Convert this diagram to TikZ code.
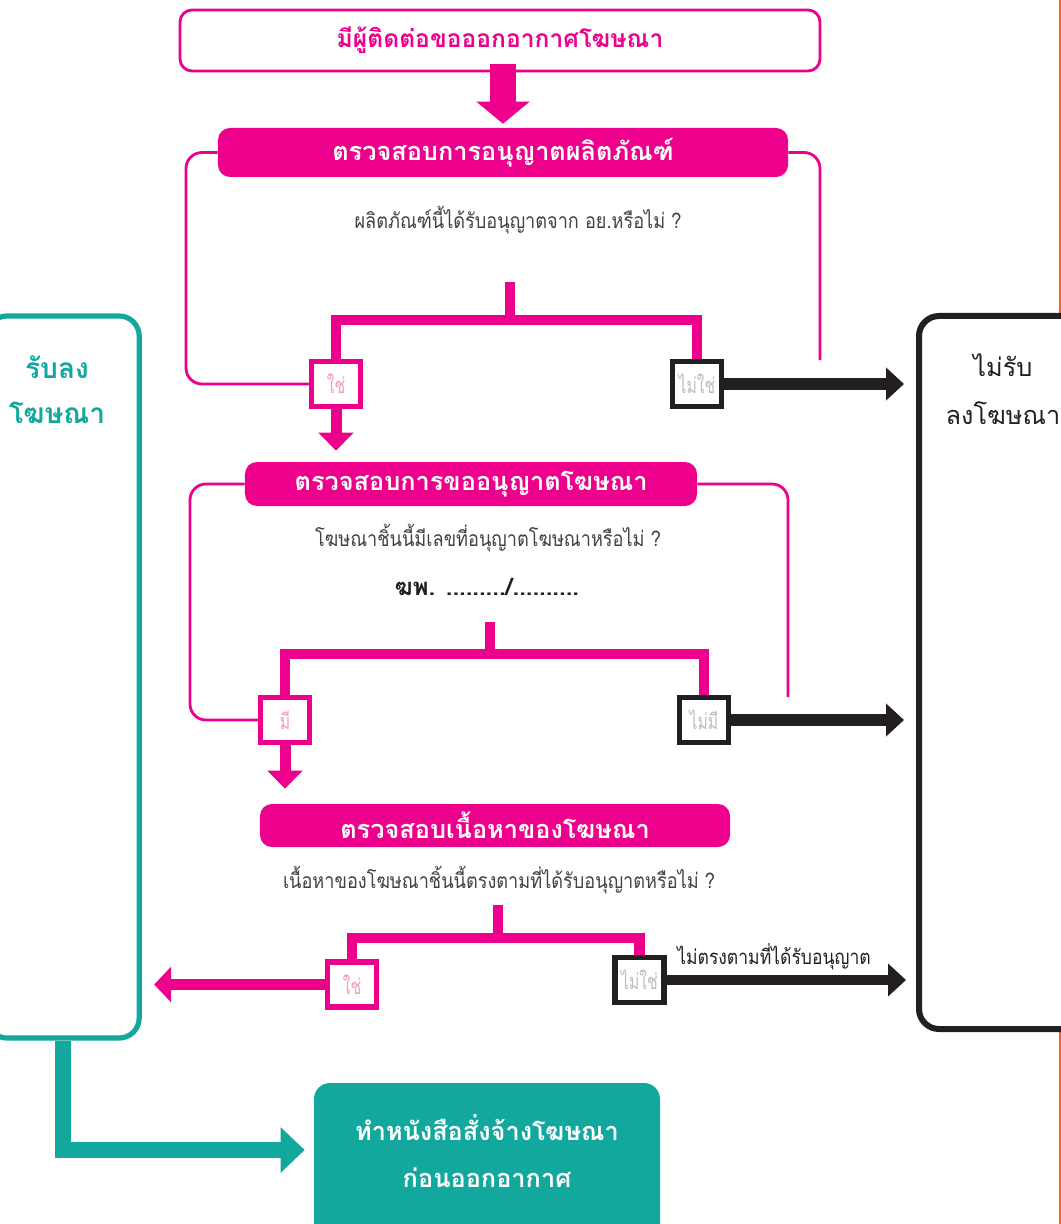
\documentclass[tikz,border=0pt]{standalone}
\usepackage{fontspec}
\newfontfamily\thai[Script=Thai]{Loma}
\newfontfamily\thaicond[Script=Thai,FakeStretch=0.86]{Loma}
\newfontfamily\thainarrow[Script=Thai,FakeStretch=0.72]{Loma}
\usetikzlibrary{arrows.meta}

\definecolor{adpink}{HTML}{EC008C}
\definecolor{adteal}{HTML}{13A89E}
\definecolor{addark}{HTML}{231F20}
\definecolor{softpink}{HTML}{F49AC1}
\definecolor{softgray}{HTML}{BCBEC0}
\definecolor{edgeorange}{HTML}{F26522}

\tikzset{
    headbox/.style={fill=adpink, text=white, rounded corners=3mm, inner sep=0pt,
        font=\thai\bfseries\fontsize{18}{21}\selectfont},
    question/.style={text=addark!85, font=\thaicond\fontsize{15}{18}\selectfont},
    yesbox/.style={draw=adpink, line width=1.3mm, fill=white, text=softpink, inner sep=0pt,
        minimum width=12.25mm, minimum height=11.25mm, font=\thainarrow\fontsize{15.5}{18}\selectfont},
    nobox/.style={yesbox, draw=addark, text=softgray},
    branch/.style={adpink, line width=2.7mm},
    loopline/.style={adpink, line width=0.7mm, rounded corners=4mm},
    pinkdown/.style={adpink, line width=2.75mm, -{Triangle[width=8.5mm,length=4.5mm]}},
    darkright/.style={addark, line width=3mm, -{Triangle[width=8mm,length=4.5mm]}},
}

\begin{document}
\begin{tikzpicture}[x=0.25mm, y=-0.25mm]
    \useasboundingbox (0,0) rectangle (1061,1224);
    \draw[edgeorange, line width=0.5mm] (1060,0) -- (1060,1224);

    % outcome boxes
    \node[draw=adteal, line width=1.3mm, rounded corners=5mm, minimum width=38.1mm, minimum height=180.5mm] (accept) at (63,677) {};
    \node[text=adteal, font=\thai\bfseries\fontsize{20}{32}\selectfont, align=center] (accepttxt) at (57,390) {รับลง\\โฆษณา};
    \node[draw=addark, fill=white, line width=1.5mm, rounded corners=5mm, minimum width=41.5mm, minimum height=178.25mm] (reject) at (1002,672.5) {};
    \node[text=addark, font=\thai\fontsize{18}{34}\selectfont, align=center] (rejecttxt) at (1003,389) {ไม่รับ\\ลงโฆษณา};
    \node[fill=adteal, rounded corners=4mm, minimum width=86.5mm, minimum height=41.5mm] (order) at (487,1166) {};
    \node[text=white, font=\thai\bfseries\fontsize{18}{33.5}\selectfont, align=center] (ordertxt) at (487,1151) {ทำหนังสือสั่งจ้างโฆษณา\\ก่อนออกอากาศ};

    % start
    \node[draw=adpink, line width=0.7mm, rounded corners=3mm, minimum width=160mm, minimum height=15.25mm,
        text=adpink, font=\thai\bfseries\fontsize{17.5}{21}\selectfont] (contact) at (500,40.5) {มีผู้ติดต่อขอออกอากาศโฆษณา};

    % step 1
    \coordinate (loopend1) at (820,360);
    \coordinate (stem1) at (510,282);
    \coordinate (fork1) at (510,320);
    \node[headbox, minimum width=142.5mm, minimum height=12.25mm] (chk1) at (503,152.5) {ตรวจสอบการอนุญาตผลิตภัณฑ์};
    \draw[loopline] (chk1.west) -| (186,384) -- (336,384);
    \draw[loopline] (chk1.east) -| (loopend1);
    \node[question] (q1) at (518,220) {ผลิตภัณฑ์นี้ได้รับอนุญาตจาก อย.หรือไม่ ?};
    \draw[branch] (stem1) -- (fork1);
    \draw[branch] (336,384) |- (fork1) -| (697,384);
    \node[yesbox] (yes1) at (336,384) {ใช่};
    \node[nobox] (no1) at (697,384) {ไม่ใช่};

    % step 2
    \coordinate (loopend2) at (788,697);
    \coordinate (stem2) at (490,622);
    \coordinate (fork2) at (490,654);
    \node[headbox, minimum width=113mm, minimum height=11mm] (chk2) at (471,484) {ตรวจสอบการขออนุญาตโฆษณา};
    \draw[loopline] (chk2.west) -| (190,720) -- (285,720);
    \draw[loopline] (chk2.east) -| (loopend2);
    \node[question] (q2) at (488,538) {โฆษณาชิ้นนี้มีเลขที่อนุญาตโฆษณาหรือไม่ ?};
    \node[text=addark, font=\thai\bfseries\fontsize{17}{20}\selectfont] (fpno) at (487,587) {ฆพ. ........./..........};
    \draw[branch] (stem2) -- (fork2);
    \draw[branch] (285,720) |- (fork2) -| (704,720);
    \node[yesbox] (yes2) at (285,720) {มี};
    \node[nobox] (no2) at (704,720) {ไม่มี};

    % step 3
    \coordinate (stem3) at (498,905);
    \coordinate (fork3) at (498,938);
    \node[headbox, minimum width=117.5mm, minimum height=10.75mm] (chk3) at (495,825.5) {ตรวจสอบเนื้อหาของโฆษณา};
    \node[question] (q3) at (499,880) {เนื้อหาของโฆษณาชิ้นนี้ตรงตามที่ได้รับอนุญาตหรือไม่ ?};
    \draw[branch] (stem3) -- (fork3);
    \draw[branch] (352,984) |- (fork3) -| (639.5,980);
    \node[yesbox] (yes3) at (352,984.5) {ใช่};
    \node[nobox] (no3) at (639.5,980) {ไม่ใช่};
    \node[text=addark, font=\thaicond\fontsize{14.5}{17}\selectfont] (notmatch) at (774,957) {ไม่ตรงตามที่ได้รับอนุญาต};

    % arrows
    \draw[adpink, line width=6.5mm, -{Triangle[width=13mm,length=5.5mm]}, shorten <=-2mm, shorten >=1mm]
        (contact.south -| chk1.north) -- (chk1.north);
    \draw[pinkdown, shorten >=2.75mm] (yes1.south) -- (yes1.south |- chk2.north);
    \draw[pinkdown, shorten >=3.75mm] (yes2.south) -- (yes2.south |- chk3.north);
    \draw[darkright, shorten >=3mm] (no1.east) -- (no1.east -| reject.west);
    \draw[darkright, shorten >=3mm] (no2.east) -- (no2.east -| reject.west);
    \draw[darkright, line width=2.5mm, shorten >=2.5mm] (no3.east) -- (no3.east -| reject.west);
    \draw[adpink, line width=2.75mm, -{Triangle[width=8.75mm,length=4.25mm]}, shorten >=3.1mm]
        (yes3.west) -- (yes3.west -| accept.east);
    \draw[adteal, line width=4mm, -{Triangle[width=11mm,length=6mm]}, shorten >=2.25mm]
        (accept.south) |- (order.west |- 0,1150);
\end{tikzpicture}
\end{document}
